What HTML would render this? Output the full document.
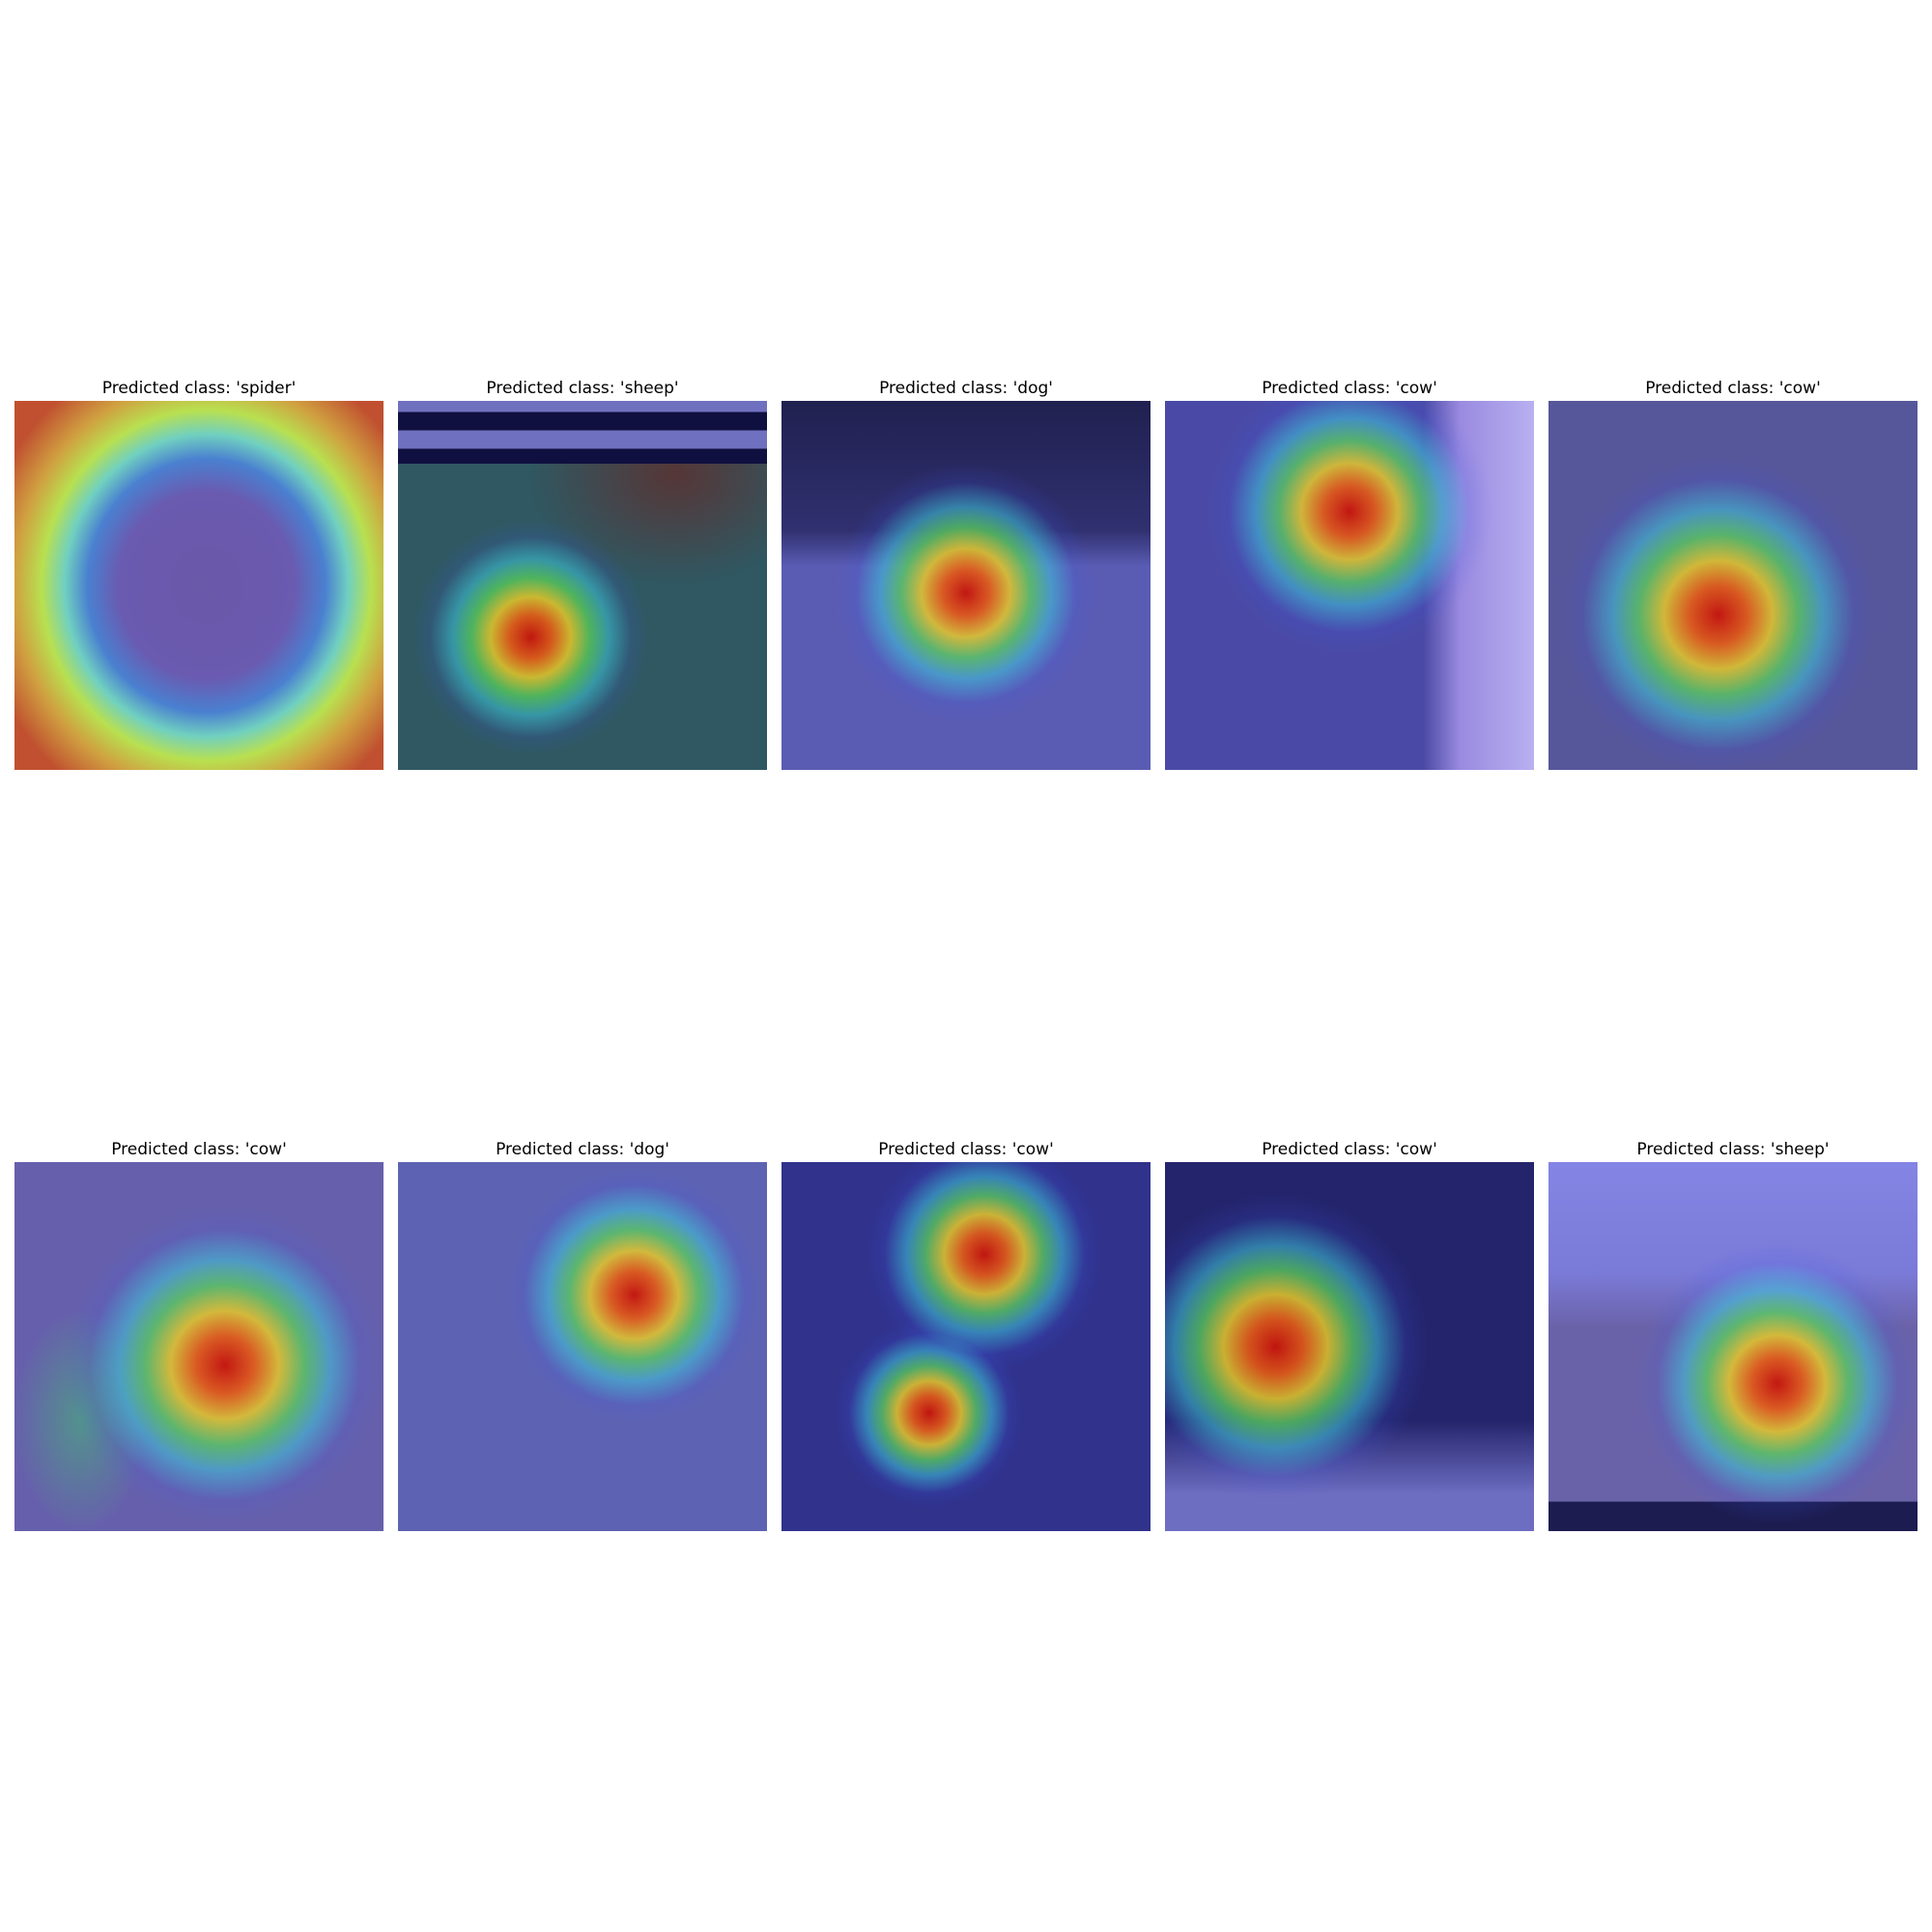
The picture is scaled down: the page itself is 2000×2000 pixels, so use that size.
<!DOCTYPE html>
<html><head><meta charset="utf-8"><style>
body{margin:0;background:#fff;}
#fig{position:relative;width:2000px;height:2000px;background:#fff;font-family:"DejaVu Sans","Liberation Sans",sans-serif;}
.title{position:absolute;width:382px;text-align:center;font-size:17px;color:#000;line-height:22px;}
.panel{position:absolute;width:382px;height:382px;overflow:hidden;}
</style></head><body>
<div id="fig"></div>
<script>
const titles=["Predicted class: 'spider'","Predicted class: 'sheep'","Predicted class: 'dog'","Predicted class: 'cow'","Predicted class: 'cow'","Predicted class: 'cow'","Predicted class: 'dog'","Predicted class: 'cow'","Predicted class: 'cow'","Predicted class: 'sheep'"];
const baseColors=["#c8a040","#2f5862","#5a5cb4","#4a4aa6","#56569a","#6660ac","#5e62b2","#30328c","#24246c","#6a62a8"];
const hotX=[0.5,0.36,0.5,0.5,0.46,0.57,0.64,0.55,0.3,0.62];
const hotY=[0.5,0.64,0.52,0.3,0.58,0.55,0.36,0.25,0.5,0.6];
const hotR=[0.0,0.2,0.22,0.24,0.27,0.27,0.22,0.2,0.26,0.24];
const hot2X=[null,null,null,null,null,null,null,0.4,null,null];
const hot2Y=[null,null,null,null,null,null,null,0.68,null,null];
const fig=document.getElementById('fig');
const col0=15,colStep=397,rows=[415,1203],size=382;
function jet(x,y,r){
  const p=r*size*1.6;
  return `radial-gradient(circle ${p}px at ${x*100}% ${y*100}%, rgba(200,20,10,0.95) 0%, rgba(230,90,20,0.9) 18%, rgba(230,200,40,0.85) 34%, rgba(90,210,90,0.75) 50%, rgba(60,200,220,0.55) 66%, rgba(60,90,230,0.15) 85%, rgba(60,60,200,0) 100%)`;
}
for(let i=0;i<10;i++){
  const r=Math.floor(i/5),c=i%5;
  const left=col0+c*colStep, top=rows[r];
  const t=document.createElement('div');
  t.className='title';
  
  
  t.style.left=left+'px'; t.style.top=(top-24)+'px';
  t.textContent=titles[i];
  fig.appendChild(t);
  const p=document.createElement('div');
  p.className='panel';
  
  
  p.style.left=left+'px'; p.style.top=top+'px';
  let bg=[];
  if(i===0){
    bg.push(`radial-gradient(ellipse 62% 66% at 52% 50%, #6a58a8 0%, #6a5ab0 38%, #4a80d0 52%, #70d0c0 62%, #b8e050 72%, #d0a040 84%, #c05030 100%)`);
  } else {
    if(hotR[i]>0) bg.push(jet(hotX[i],hotY[i],hotR[i]));
    if(hot2X[i]!==null) bg.push(jet(hot2X[i],hot2Y[i],hotR[i]*0.8));
    if(i===1) bg.push(`linear-gradient(to bottom, #7070c0 0%, #7070c0 3%, #101040 3%, #101040 8%, #7070c0 8%, #7070c0 13%, #101040 13%, #101040 17%, transparent 17%)`);
    if(i===1) bg.push(`radial-gradient(ellipse 40% 30% at 75% 20%, rgba(90,50,50,0.9), rgba(90,50,50,0) 100%)`);
    if(i===2) bg.push(`linear-gradient(to bottom, #202050 0%, #303070 35%, rgba(0,0,0,0) 45%)`);
    if(i===3) bg.push(`linear-gradient(to right, rgba(0,0,0,0) 70%, #9a8ae0 80%, #b8b0f0 100%)`);
    if(i===5) bg.push(`radial-gradient(ellipse 18% 30% at 18% 70%, rgba(70,180,120,0.6), rgba(70,180,120,0) 100%)`);
    if(i===8) bg.push(`linear-gradient(to bottom, rgba(0,0,0,0) 70%, rgba(140,140,230,0.7) 90%)`);
    if(i===9) bg.push(`linear-gradient(to bottom, #8484e4 0%, #7a7ad8 30%, rgba(0,0,0,0) 45%)`, `linear-gradient(to bottom, transparent 92%, #1c1c50 92%)`);
    bg.push(baseColors[i]);
  }
  p.style.background=bg.join(',');
  fig.appendChild(p);
}
</script>
</body></html>
